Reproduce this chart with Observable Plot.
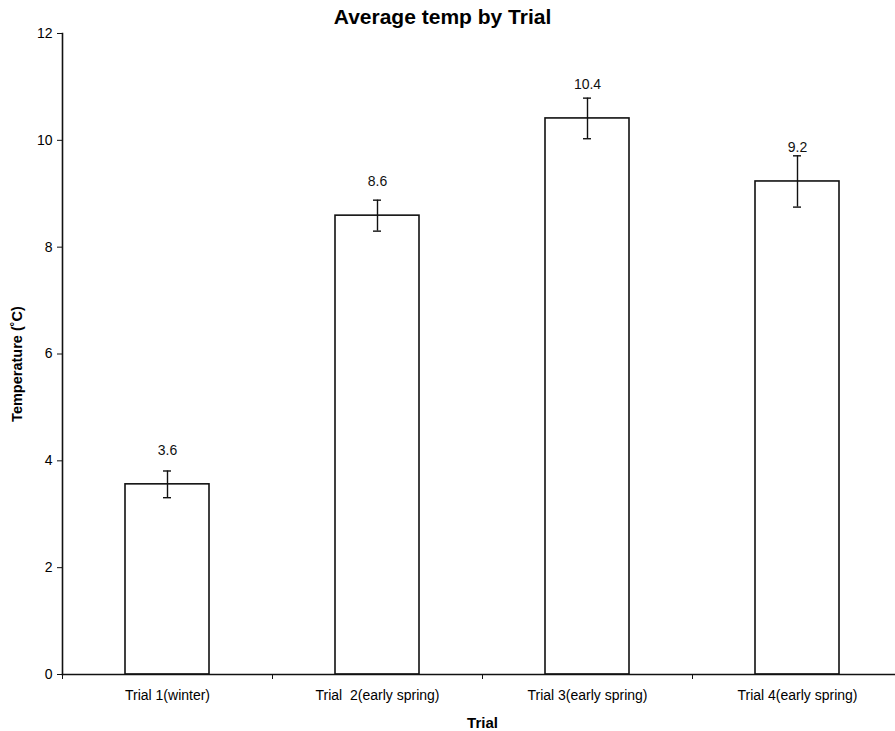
<!DOCTYPE html>
<html>
<head>
<meta charset="utf-8">
<script src="https://cdn.jsdelivr.net/npm/d3@7"></script>
<script src="https://cdn.jsdelivr.net/npm/@observablehq/plot@0.6"></script>
<style>
  html, body { margin: 0; padding: 0; background: #fff; }
  svg text { white-space: pre; }
</style>
</head>
<body>
<div id="chart"></div>
<script>
const categories = ["Trial 1(winter)", "Trial  2(early spring)", "Trial 3(early spring)", "Trial 4(early spring)"];
const means = [3.56, 8.59, 10.41, 9.23];
const errors = [0.25, 0.29, 0.38, 0.48];
const valueLabels = ["3.6", "8.6", "10.4", "9.2"];
const yTicks = [0, 2, 4, 6, 8, 10, 12];

const data = categories.map((c, i) => ({
  trial: c, mean: means[i], err: errors[i], label: valueLabels[i]
}));

const font = "Liberation Sans, Arial, Helvetica, sans-serif";

const chart = Plot.plot({
  width: 895,
  height: 731,
  marginLeft: 62,
  marginRight: -7,
  marginTop: 33,
  marginBottom: 57,
  style: { fontFamily: font, fontSize: "14px", color: "#000", background: "#fff" },
  x: { domain: categories, paddingInner: 0.6, paddingOuter: 0.3, label: null },
  y: { domain: [0, 12], label: null },
  marks: [
    Plot.barY(data, { x: "trial", y: "mean", fill: "white", stroke: "#111", strokeWidth: 1.6 }),
    Plot.ruleX(data, { x: "trial", y1: d => d.mean - d.err, y2: d => d.mean + d.err, stroke: "#111", strokeWidth: 1.4 }),
    Plot.tickY(data, { x: "trial", y: d => d.mean + d.err, stroke: "#111", strokeWidth: 1.4, insetLeft: 38, insetRight: 38 }),
    Plot.tickY(data, { x: "trial", y: d => d.mean - d.err, stroke: "#111", strokeWidth: 1.4, insetLeft: 38, insetRight: 38 }),
    Plot.text(data, { x: "trial", y: "mean", text: "label", dy: -34, fontSize: 14, fill: "#111" }),
    Plot.axisY({ ticks: yTicks, tickSize: 5, tickPadding: 5, fontSize: 14, label: null, stroke: "#111" }),
    Plot.axisX({ tickSize: 0, tickPadding: 16, fontSize: 14, label: null }),
    Plot.axisX({ tickSize: 5, text: null, dx: -105, stroke: "#111" }),
    Plot.frame({ anchor: "left", stroke: "#111", strokeWidth: 1.6 }),
    Plot.frame({ anchor: "bottom", stroke: "#111", strokeWidth: 1.6 }),
    Plot.text(["Temperature (˚C)"], { frameAnchor: "left", textAnchor: "middle", lineAnchor: "middle", dx: -45, dy: 10, rotate: -90, fontWeight: "bold", fontSize: 14.5, fill: "#000" }),
    Plot.text(["Trial"], { frameAnchor: "bottom", lineAnchor: "middle", dy: 49, fontWeight: "bold", fontSize: 15, fill: "#000" }),
    Plot.text(["Average temp by Trial"], { frameAnchor: "top", lineAnchor: "middle", dx: -40, dy: -16, fontWeight: "bold", fontSize: 21, fill: "#000" })
  ]
});

document.getElementById("chart").appendChild(chart);
</script>
</body>
</html>
